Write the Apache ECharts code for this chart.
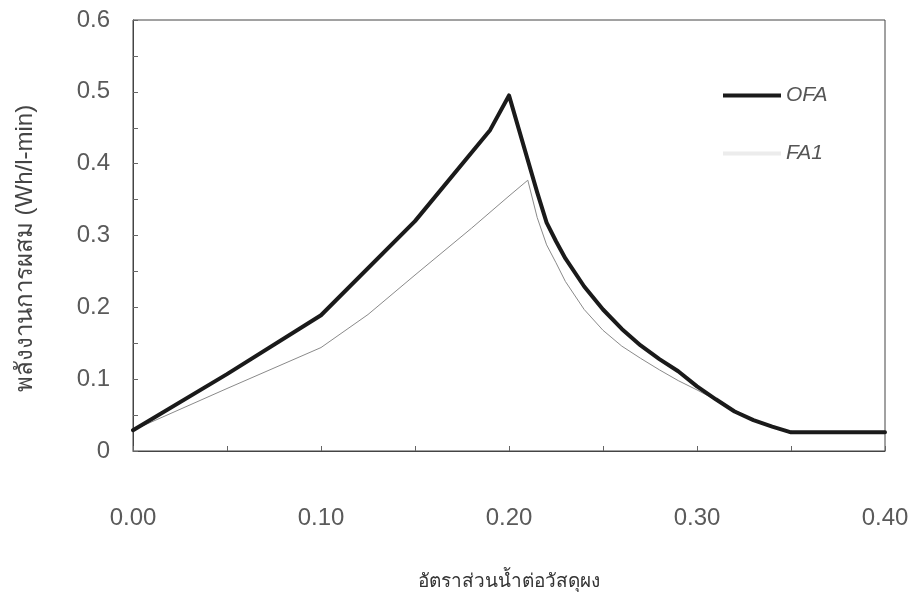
<!DOCTYPE html>
<html>
<head>
<meta charset="utf-8">
<script src="https://cdn.jsdelivr.net/npm/echarts@6/dist/echarts.min.js"></script>
<style>
  html, body { margin: 0; padding: 0; background: #fff; }
  #chart { width: 913px; height: 608px; }
</style>
</head>
<body>
<div id="chart"></div>
<script>
// Water-to-powder ratio vs. mixing energy
const ofaRatio  = [0.00, 0.05, 0.10, 0.15, 0.19, 0.20, 0.21, 0.215, 0.22, 0.225, 0.23, 0.24, 0.25, 0.26, 0.27, 0.28, 0.29, 0.30, 0.31, 0.32, 0.33, 0.34, 0.35, 0.40];
const ofaEnergy = [0.029, 0.107, 0.189, 0.320, 0.447, 0.495, 0.405, 0.360, 0.318, 0.292, 0.268, 0.229, 0.197, 0.170, 0.147, 0.128, 0.111, 0.090, 0.072, 0.055, 0.043, 0.034, 0.026, 0.026];

const fa1Ratio  = [0.00, 0.05, 0.10, 0.125, 0.15, 0.18, 0.20, 0.21, 0.215, 0.22, 0.225, 0.23, 0.24, 0.25, 0.26, 0.27, 0.28, 0.29, 0.30, 0.31, 0.32, 0.33, 0.34, 0.35, 0.40];
const fa1Energy = [0.029, 0.087, 0.144, 0.190, 0.245, 0.310, 0.355, 0.377, 0.325, 0.287, 0.262, 0.236, 0.197, 0.168, 0.146, 0.129, 0.113, 0.098, 0.085, 0.071, 0.057, 0.043, 0.034, 0.026, 0.026];

const seriesNames = ['OFA', 'FA1'];
const xTitle = 'อัตราส่วนน้ำต่อวัสดุผง';
const yTitle = 'พลังงานการผสม (Wh/l-min)';

const pairs = (xs, ys) => xs.map((x, i) => [x, ys[i]]);

const chart = echarts.init(document.getElementById('chart'));
const textFont = "'Liberation Sans', Arial, sans-serif";

chart.setOption({
  animation: false,
  backgroundColor: '#fff',
  grid: {
    left: 133, right: 28, top: 20, bottom: 157,
    show: true, borderColor: '#444', borderWidth: 1
  },
  legend: {
    show: true,
    orient: 'vertical',
    left: 718, top: 80,
    itemWidth: 58, itemHeight: 4, itemGap: 37,
    data: [
      { name: seriesNames[0], icon: 'rect', itemStyle: { color: '#1a1a1a' } },
      { name: seriesNames[1], icon: 'rect', itemStyle: { color: '#ececec' } }
    ],
    textStyle: {
      fontFamily: textFont, fontSize: 21, fontStyle: 'italic', color: '#555'
    }
  },
  xAxis: {
    type: 'value',
    min: 0, max: 0.4, interval: 0.1,
    name: xTitle,
    nameLocation: 'middle',
    nameGap: 121,
    nameTextStyle: { fontFamily: textFont, fontSize: 19, color: '#333' },
    axisLine: { lineStyle: { color: '#444' } },
    axisTick: { show: true, inside: true, length: 5, lineStyle: { color: '#666' } },
    minorTick: { show: true, splitNumber: 2, length: 5, lineStyle: { color: '#666' } },
    splitLine: { show: false },
    axisLabel: {
      margin: 55,
      fontFamily: textFont, fontSize: 24, color: '#5a5a5a',
      formatter: v => v.toFixed(2)
    }
  },
  yAxis: {
    type: 'value',
    min: 0, max: 0.6, interval: 0.1,
    name: yTitle,
    nameLocation: 'middle',
    nameGap: 96,
    nameTextStyle: { fontFamily: textFont, fontSize: 24, color: '#444', padding: [0, 26, 0, 0] },
    axisLine: { show: true, lineStyle: { color: '#444' } },
    axisTick: { show: true, inside: true, length: 5, lineStyle: { color: '#666' } },
    minorTick: { show: true, splitNumber: 2, length: 5, lineStyle: { color: '#666' } },
    splitLine: { show: false },
    axisLabel: {
      margin: 23,
      fontFamily: textFont, fontSize: 24, color: '#5a5a5a',
      formatter: v => (v === 0 ? '0' : v.toFixed(1))
    }
  },
  series: [
    {
      name: seriesNames[0],
      type: 'line',
      data: pairs(ofaRatio, ofaEnergy),
      symbol: 'none',
      lineStyle: { color: '#1a1a1a', width: 4, join: 'round', cap: 'round' },
      itemStyle: { color: '#1a1a1a' },
      z: 3
    },
    {
      name: seriesNames[1],
      type: 'line',
      data: pairs(fa1Ratio, fa1Energy),
      symbol: 'none',
      lineStyle: { color: '#8a8a8a', width: 1 },
      itemStyle: { color: '#ececec' },
      z: 2
    }
  ]
});
</script>
</body>
</html>
